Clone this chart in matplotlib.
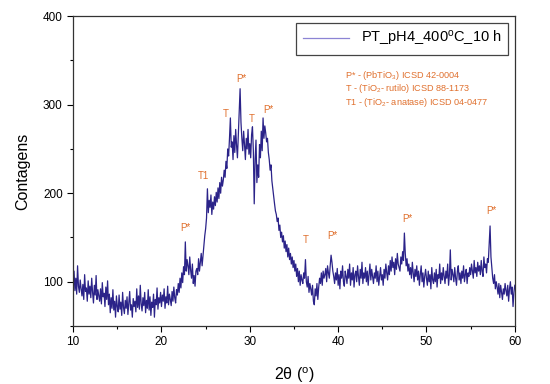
import matplotlib.pyplot as plt
import numpy as np
from matplotlib.ticker import MultipleLocator

plt.rcParams["font.family"] = ["Liberation Sans", "DejaVu Sans"]
plt.rcParams["mathtext.default"] = "regular"

# 2theta de 10 a 60 com passo de 0.1 (uma linha por grau)
two_theta = np.round(np.arange(10.0, 60.01, 0.1), 1)
contagens = [
    98, 112, 90, 104, 86, 118, 95, 88, 102, 92,
    84, 97, 80, 108, 89, 93, 78, 101, 86, 95,
    82, 104, 88, 76, 96, 85, 107, 80, 91, 84,
    78, 92, 75, 99, 83, 87, 72, 94, 80, 101,
    74, 86, 65, 82, 70, 91, 68, 78, 60, 84,
    72, 66, 85, 69, 77, 62, 88, 71, 64, 79,
    70, 83, 63, 76, 89, 68, 74, 60, 81, 72,
    78, 66, 92, 71, 84, 69, 96, 75, 67, 82,
    73, 88, 65, 79, 70, 91, 68, 83, 62, 77,
    71, 86, 60, 80, 74, 93, 69, 82, 76, 88,
    72, 85, 78, 92, 70, 83, 76, 95, 74, 86,
    80, 73, 89, 78, 94, 82, 76, 91, 85, 98,
    88, 104, 93, 110, 99, 117, 108, 145, 112, 125,
    118, 108, 128, 113, 104, 120, 98, 107, 95, 112,
    115, 108, 126, 112, 122, 132, 118, 129, 140, 152,
    160, 172, 205, 178, 192, 184, 198, 176, 190, 182,
    196, 186, 201, 190, 206, 194, 212, 200, 218, 208,
    215, 226, 218, 236, 228, 250, 242, 262, 285, 252,
    258, 238, 265, 246, 272, 254, 240, 266, 290, 318,
    280, 262, 248, 270, 255, 238, 262, 250, 272, 244,
    256, 240, 266, 275, 248, 188, 238, 260, 212, 232,
    218, 255, 240, 270, 248, 285, 262, 276, 268, 258,
    262, 246, 238, 226, 232, 214, 205, 196, 188, 180,
    176, 168, 172, 158, 164, 150, 156, 145, 152, 138,
    146, 134, 142, 128, 138, 125, 132, 120, 128, 116,
    124, 112, 120, 106, 115, 100, 112, 96, 108, 102,
    98, 110, 104, 125, 100, 94, 106, 88, 98, 92,
    85, 96, 78, 74, 92, 84, 98, 80, 94, 104,
    98, 110, 96, 112, 104, 108, 115, 100, 118, 110,
    104, 118, 130, 122, 112, 106, 98, 110, 102, 115,
    96, 108, 92, 112, 104, 118, 100, 95, 112, 106,
    98, 114, 104, 120, 96, 110, 102, 116, 94, 108,
    112, 100, 118, 106, 96, 114, 104, 122, 98, 110,
    104, 116, 100, 112, 96, 108, 120, 102, 114, 106,
    98, 110, 104, 118, 100, 112, 96, 106, 116, 102,
    108, 96, 114, 104, 120, 110, 102, 118, 108, 124,
    112, 128, 116, 122, 108, 126, 114, 132, 120, 116,
    112, 128, 120, 134, 124, 155, 132, 118, 126, 112,
    120, 108, 116, 104, 122, 110, 100, 114, 106, 118,
    102, 112, 96, 108, 118, 100, 110, 94, 106, 114,
    104, 96, 112, 100, 108, 92, 116, 102, 98, 110,
    100, 114, 94, 108, 104, 120, 98, 110, 102, 116,
    106, 98, 112, 104, 120, 96, 108, 136, 102, 114,
    108, 100, 116, 104, 96, 112, 118, 102, 110, 98,
    112, 104, 118, 100, 108, 114, 98, 110, 106, 116,
    108, 120, 112, 104, 124, 110, 116, 106, 122, 112,
    118, 108, 124, 112, 106, 128, 116, 120, 110, 126,
    122, 142, 163, 128, 116, 104, 98, 108, 92, 100,
    94, 86, 98, 82, 96, 88, 80, 92, 86, 98,
    90, 84, 96, 78, 92, 100, 86, 94, 72, 88,
    96,
]

# identificacao dos picos (rotulo, 2theta, altura do texto)
pico_rotulos = ["P*", "T1", "T", "P*", "T", "P*", "T", "P*", "P*", "P*"]
pico_x = [22.7, 24.8, 27.3, 29.0, 30.2, 32.1, 36.3, 39.4, 47.8, 57.3]
pico_y = [161, 219, 290, 329, 284, 294, 147, 152, 171, 180]

fases = [
    r"P* - (PbTiO$_3$) ICSD 42-0004",
    r"T - (TiO$_2$- rutilo) ICSD 88-1173",
    r"T1 - (TiO$_2$- anatase) ICSD 04-0477",
]

LARANJA = "#E0702E"

fig = plt.figure(figsize=(5.5, 3.84), dpi=100)
ax = fig.add_axes([0.133, 0.151, 0.803, 0.807])

ax.plot(two_theta, contagens, color="#2B2389", linewidth=0.9,
        label=r"PT_pH4_400$^{o}$C_10 h")

for rot, xp, yp in zip(pico_rotulos, pico_x, pico_y):
    ax.text(xp, yp, rot, color=LARANJA, fontsize=7, ha="center", va="center")

for i, txt in enumerate(fases):
    ax.text(0.616, 0.808 - i * 0.043, txt, transform=ax.transAxes,
            color=LARANJA, fontsize=6.6, ha="left", va="center")

ax.set_xlim(10, 60)
ax.set_ylim(50, 400)
ax.xaxis.set_major_locator(MultipleLocator(10))
ax.xaxis.set_minor_locator(MultipleLocator(5))
ax.yaxis.set_major_locator(MultipleLocator(100))
ax.yaxis.set_minor_locator(MultipleLocator(50))
ax.tick_params(which="both", direction="out", labelsize=8.5, width=0.8)
ax.tick_params(which="major", length=4)
ax.tick_params(which="minor", length=2.5)
for s in ax.spines.values():
    s.set_linewidth(0.9)
    s.set_color("#333333")

ax.set_xlabel(r"2$\theta$ ($^{o}$)", fontsize=11.5, labelpad=12)
ax.set_ylabel("Contagens", fontsize=11.5, labelpad=9)

leg = ax.legend(loc="upper right", fontsize=10.5, handlelength=3.2,
                fancybox=False, framealpha=1, edgecolor="#444444",
                borderaxespad=0.45, borderpad=0.45)
leg.get_frame().set_linewidth(0.9)
leg.get_lines()[0].set_color("#8C84D4")

fig.savefig("out.png", dpi=100)
